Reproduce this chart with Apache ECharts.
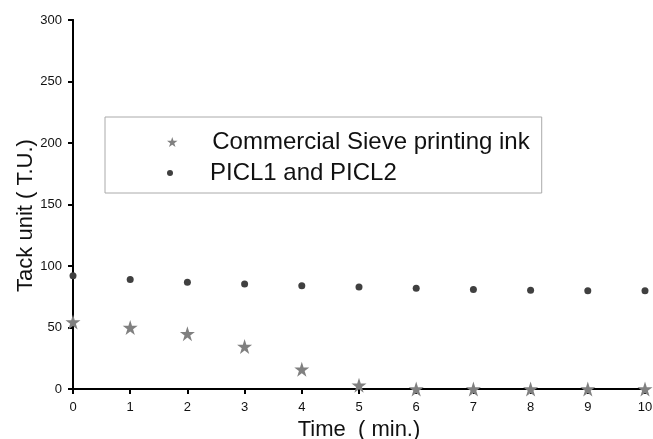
<!DOCTYPE html>
<html>
<head>
<meta charset="utf-8">
<script src="https://cdn.jsdelivr.net/npm/echarts@6/dist/echarts.min.js"></script>
<style>html,body{margin:0;padding:0;background:#fff}#c{width:653px;height:439px}</style>
</head>
<body>
<div id="c"></div>
<script>
var times = [0, 1, 2, 3, 4, 5, 6, 7, 8, 9, 10];
var commercialInk = [54.5, 50, 45, 34.5, 16, 3, 0, 0, 0, 0, 0];
var picl = [92, 89, 86.8, 85.3, 84, 83, 82, 80.8, 80.3, 79.8, 79.8];
var seriesNames = ['Commercial Sieve printing ink', 'PICL1 and PICL2'];
var xTitle = 'Time  ( min.)';
var yTitle = 'Tack unit ( T.U.)';

var STAR = 'path://M50,0 L61.23,34.55 L97.55,34.55 L68.17,55.9 L79.39,90.45 L50,69.1 L20.61,90.45 L31.83,55.9 L2.45,34.55 L38.77,34.55 Z';
var FONT = 'Liberation Sans, Arial, sans-serif';

function pairs(xs, ys) { return xs.map(function (x, i) { return [x, ys[i]]; }); }

var chart = echarts.init(document.getElementById('c'), null, {renderer: 'canvas'});
var axisLine = {show: true, lineStyle: {color: '#000', width: 2}};
chart.setOption({
  backgroundColor: '#fff',
  animation: false,
  grid: {left: 73, right: 8, top: 20, bottom: 50, containLabel: false, outerBoundsMode: 'none'},
  legend: [{
    data: [{name: seriesNames[0], icon: STAR}],
    orient: 'vertical', left: 105, top: 117,
    padding: [13, 12, 39, 62],
    itemWidth: 70, itemHeight: 10,
    borderColor: '#aaa', borderWidth: 1, backgroundColor: '#fff',
    selectedMode: false,
    textStyle: {fontSize: 24, color: '#111', fontFamily: FONT}
  }, {
    data: [{name: seriesNames[1], icon: 'circle'}],
    orient: 'vertical', left: 167, top: 161, z: 6,
    padding: 0,
    itemWidth: 70, itemHeight: 6,
    selectedMode: false,
    textStyle: {fontSize: 24, color: '#111', fontFamily: FONT}
  }],
  xAxis: [{
    type: 'value', min: 0, max: 10, interval: 1, position: 'bottom',
    name: xTitle, nameLocation: 'middle', nameGap: 29,
    nameTextStyle: {fontSize: 22, color: '#111', fontFamily: FONT},
    axisLine: axisLine,
    axisTick: {show: true, inside: false, length: 5, lineStyle: {color: '#000', width: 2}},
    axisLabel: {fontSize: 13, color: '#111', margin: 12, fontFamily: FONT},
    splitLine: {show: false}
  }, {
    type: 'value', min: 0, max: 10, interval: 1, position: 'top',
    axisLine: axisLine, axisTick: {show: false}, axisLabel: {show: false}, splitLine: {show: false}
  }],
  yAxis: [{
    type: 'value', min: 0, max: 300, interval: 50, position: 'left',
    name: yTitle, nameLocation: 'middle', nameGap: 36, nameMoveOverlap: false,
    nameTextStyle: {fontSize: 22, color: '#111', fontFamily: FONT, padding: [0, 22, 0, 0]},
    axisLine: axisLine,
    axisTick: {show: true, inside: false, length: 5, lineStyle: {color: '#000', width: 2}},
    axisLabel: {fontSize: 13, color: '#111', margin: 11, fontFamily: FONT},
    splitLine: {show: false}
  }, {
    type: 'value', min: 0, max: 300, interval: 50, position: 'right',
    axisLine: axisLine,
    axisTick: {show: true, inside: true, length: 5, lineStyle: {color: '#000', width: 2}},
    axisLabel: {show: false}, splitLine: {show: false}
  }],
  series: [{
    name: seriesNames[0], type: 'scatter', symbol: STAR, symbolSize: 15,
    itemStyle: {color: '#808080', opacity: 1},
    data: pairs(times, commercialInk), clip: true, z: 3
  }, {
    name: seriesNames[1], type: 'scatter', symbol: 'circle', symbolSize: 7,
    itemStyle: {color: '#404040', opacity: 1},
    data: pairs(times, picl), clip: true, z: 3
  }]
});
</script>
</body>
</html>
